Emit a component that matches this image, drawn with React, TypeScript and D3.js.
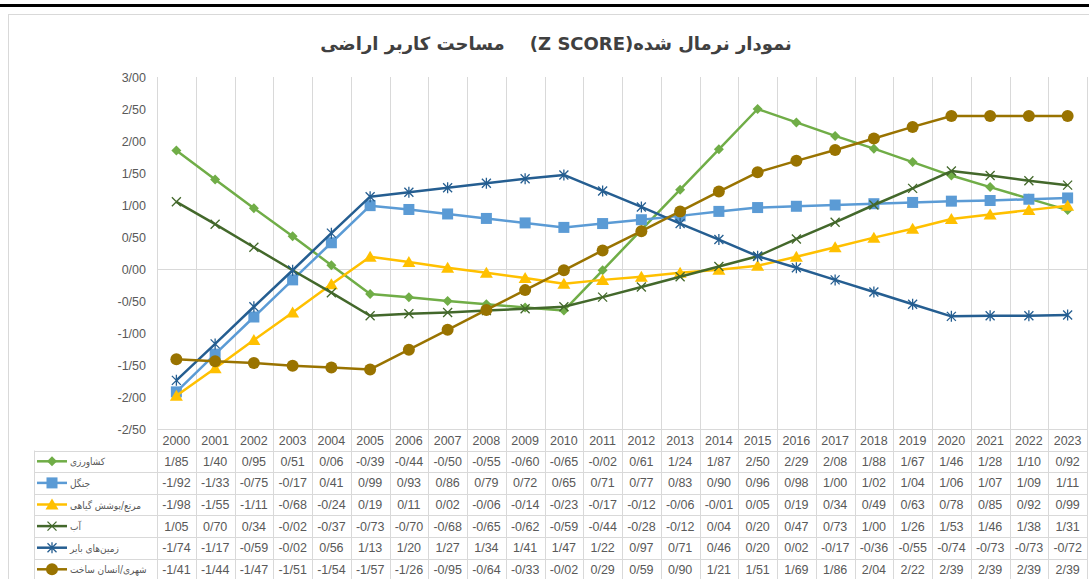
import React from "react";
import * as d3 from "d3";

const years = ["2000","2001","2002","2003","2004","2005","2006","2007","2008","2009","2010","2011","2012","2013","2014","2015","2016","2017","2018","2019","2020","2021","2022","2023"];
const agriculture = [1.85,1.40,0.95,0.51,0.06,-0.39,-0.44,-0.50,-0.55,-0.60,-0.65,-0.02,0.61,1.24,1.87,2.50,2.29,2.08,1.88,1.67,1.46,1.28,1.10,0.92];
const forest = [-1.92,-1.33,-0.75,-0.17,0.41,0.99,0.93,0.86,0.79,0.72,0.65,0.71,0.77,0.83,0.90,0.96,0.98,1.00,1.02,1.04,1.06,1.07,1.09,1.11];
const rangeland = [-1.98,-1.55,-1.11,-0.68,-0.24,0.19,0.11,0.02,-0.06,-0.14,-0.23,-0.17,-0.12,-0.06,-0.01,0.05,0.19,0.34,0.49,0.63,0.78,0.85,0.92,0.99];
const water = [1.05,0.70,0.34,-0.02,-0.37,-0.73,-0.70,-0.68,-0.65,-0.62,-0.59,-0.44,-0.28,-0.12,0.04,0.20,0.47,0.73,1.00,1.26,1.53,1.46,1.38,1.31];
const barren = [-1.74,-1.17,-0.59,-0.02,0.56,1.13,1.20,1.27,1.34,1.41,1.47,1.22,0.97,0.71,0.46,0.20,0.02,-0.17,-0.36,-0.55,-0.74,-0.73,-0.73,-0.72];
const urban = [-1.41,-1.44,-1.47,-1.51,-1.54,-1.57,-1.26,-0.95,-0.64,-0.33,-0.02,0.29,0.59,0.90,1.21,1.51,1.69,1.86,2.04,2.22,2.39,2.39,2.39,2.39];
const yTicks = [3, 2.5, 2, 1.5, 1, 0.5, 0, -0.5, -1, -1.5, -2, -2.5];
const seriesNames = ["کشاورزی", "جنگل", "مرتع/پوشش گیاهی", "آب", "زمین‌های بایر", "شهری/انسان ساخت"];
const title = "نمودار نرمال شده(Z SCORE)\u00A0\u00A0\u00A0 مساحت کاربر اراضی";

const series = [
  { name: seriesNames[0], values: agriculture, color: "#70AD47", marker: "diamond" },
  { name: seriesNames[1], values: forest, color: "#5B9BD5", marker: "square" },
  { name: seriesNames[2], values: rangeland, color: "#FFC000", marker: "triangle" },
  { name: seriesNames[3], values: water, color: "#43682B", marker: "x" },
  { name: seriesNames[4], values: barren, color: "#255E91", marker: "star" },
  { name: seriesNames[5], values: urban, color: "#997300", marker: "circle" },
];

const fmt = (v: number) => d3.format(".2f")(v).replace("\u2212", "-").replace(".", "/");

function Marker({ type, x, y, color }: { type: string; x: number; y: number; color: string }) {
  switch (type) {
    case "diamond":
      return <path d={`M${x},${y - 5}L${x + 5},${y}L${x},${y + 5}L${x - 5},${y}Z`} fill={color} />;
    case "square":
      return <rect x={x - 5.5} y={y - 5.5} width={11} height={11} fill={color} />;
    case "triangle":
      return <path d={`M${x},${y - 6}L${x + 6.5},${y + 5}L${x - 6.5},${y + 5}Z`} fill={color} />;
    case "circle":
      return <circle cx={x} cy={y} r={6} fill={color} />;
    case "x":
      return <path d={`M${x - 4.5},${y - 4.5}L${x + 4.5},${y + 4.5}M${x - 4.5},${y + 4.5}L${x + 4.5},${y - 4.5}`} stroke={color} strokeWidth={1.3} fill="none" />;
    case "star":
      return <path d={`M${x - 4.5},${y - 4.5}L${x + 4.5},${y + 4.5}M${x - 4.5},${y + 4.5}L${x + 4.5},${y - 4.5}M${x},${y - 5.5}L${x},${y + 5.5}`} stroke={color} strokeWidth={1.3} fill="none" />;
    default:
      return null;
  }
}

export default function App() {
  const W = 1089, H = 579;
  const plotLeft = 157, plotRight = 1087, plotTop = 77, plotBottom = 429;
  const x = d3.scaleBand<string>().domain(years).range([plotLeft, plotRight]);
  const y = d3.scaleLinear().domain([-2.5, 3]).range([plotBottom, plotTop]);
  const bw = x.bandwidth();
  const cx = (yr: string) => (x(yr) as number) + bw / 2;
  const line = d3.line<number>().x((_, i) => cx(years[i])).y((v) => y(v));

  const headerTop = plotBottom;
  const rowH = 21.6;
  const firstRowTop = 450.5;
  const legendLeft = 34;
  const tableBottom = firstRowTop + rowH * series.length;

  const grid = "#D9D9D9";
  const textColor = "#595959";
  const numFont = "'Liberation Sans', Arial, sans-serif";

  return (
    <svg width={W} height={H} style={{ position: "absolute", left: 0, top: 0, background: "#fff" }} fontFamily={numFont}>
      <rect x={0} y={0} width={W} height={H} fill="#fff" />
      <rect x={0} y={4} width={W} height={3} fill="#000" />
      <rect x={8.5} y={14.5} width={W} height={H} fill="#fff" stroke={grid} />
      <text x={556} y={50} textAnchor="middle" direction="rtl" fontFamily="'DejaVu Sans', sans-serif" fontWeight="bold" fontSize={18} fill="#404040" style={{ whiteSpace: "pre" }}>{title}</text>

      {/* vertical gridlines */}
      {d3.range(years.length + 1).map((i) => {
        const xx = Math.round(plotLeft + i * bw) + 0.5;
        return <line key={"v" + i} x1={xx} x2={xx} y1={plotTop} y2={tableBottom} stroke={grid} strokeWidth={1} />;
      })}
      {/* zero line */}
      <line x1={plotLeft} x2={plotRight} y1={Math.round(y(0)) + 0.5} y2={Math.round(y(0)) + 0.5} stroke={grid} />
      {/* table horizontals */}
      <line x1={plotLeft} x2={plotRight} y1={headerTop + 0.5} y2={headerTop + 0.5} stroke={grid} />
      {d3.range(series.length + 1).map((i) => {
        const yy = Math.round(firstRowTop + i * rowH) + 0.5;
        return <line key={"h" + i} x1={legendLeft} x2={plotRight} y1={yy} y2={yy} stroke={grid} />;
      })}
      <line x1={legendLeft + 0.5} x2={legendLeft + 0.5} y1={firstRowTop} y2={tableBottom} stroke={grid} />

      {/* y axis labels */}
      {yTicks.map((t) => (
        <text key={"yt" + t} x={146} y={y(t) + 4.5} textAnchor="end" fontSize={12.5} fill={textColor}>{fmt(t)}</text>
      ))}

      {/* year header */}
      {years.map((yr) => (
        <text key={"yr" + yr} x={cx(yr)} y={headerTop + 15.5} textAnchor="middle" fontSize={12.5} fill={textColor}>{yr}</text>
      ))}

      {/* table rows */}
      {series.map((s, r) => {
        const rowMid = firstRowTop + r * rowH + rowH / 2;
        return (
          <g key={"row" + r}>
            <line x1={37} x2={67} y1={rowMid} y2={rowMid} stroke={s.color} strokeWidth={2.5} />
            <Marker type={s.marker} x={52} y={rowMid} color={s.color} />
            <text x={70} y={rowMid + 4} textAnchor="start" fontFamily="'DejaVu Sans Condensed', 'DejaVu Sans', sans-serif" fontSize={10} fill={textColor}>{s.name}</text>
            {s.values.map((v, i) => (
              <text key={i} x={cx(years[i])} y={rowMid + 4.5} textAnchor="middle" fontSize={12.5} fill={textColor}>{fmt(v)}</text>
            ))}
          </g>
        );
      })}

      {/* series lines */}
      {series.map((s, k) => (
        <g key={"s" + k}>
          <path d={line(s.values) as string} fill="none" stroke={s.color} strokeWidth={2.5} strokeLinejoin="round" />
          {s.values.map((v, i) => (
            <Marker key={i} type={s.marker} x={cx(years[i])} y={y(v)} color={s.color} />
          ))}
        </g>
      ))}
    </svg>
  );
}
